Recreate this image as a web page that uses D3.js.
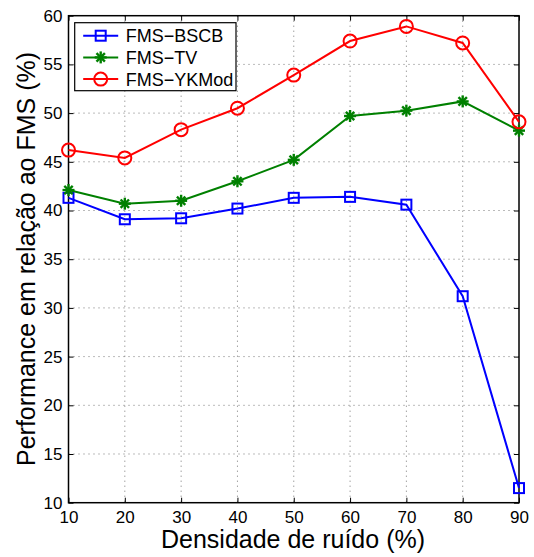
<!DOCTYPE html>
<html>
<head>
<meta charset="utf-8">
<script src="https://cdn.jsdelivr.net/npm/d3@7"></script>
<style>
  body { margin: 0; background: #fff; }
  text { font-family: "Liberation Sans", Arial, sans-serif; }
</style>
</head>
<body>
<div id="chart"></div>
<script>
const noise = [10, 20, 30, 40, 50, 60, 70, 80, 90];
const bscb = [41.3, 39.1, 39.2, 40.2, 41.3, 41.4, 40.6, 31.2, 11.5];
const tv = [42.1, 40.7, 41.0, 43.0, 45.2, 49.7, 50.25, 51.2, 48.2];
const ykmod = [46.2, 45.4, 48.3, 50.5, 53.9, 57.4, 58.9, 57.2, 49.1];
const yTicks = [10, 15, 20, 25, 30, 35, 40, 45, 50, 55, 60];

const W = 534, H = 557;
const margin = { top: 15.7, right: 15, bottom: 54.3, left: 68.5 },
      width = 519 - margin.left,
      height = 502.7 - margin.top;

const svg = d3.select("#chart").append("svg")
  .attr("width", W).attr("height", H)
  .append("g")
  .attr("transform", `translate(${margin.left},${margin.top})`);

const x = d3.scaleLinear().domain([10, 90]).range([0, width]);
const y = d3.scaleLinear().domain([10, 60]).range([height, 0]);

// grid
svg.selectAll(".gx").data(noise.slice(1, -1)).enter().append("line")
  .attr("x1", d => x(d)).attr("x2", d => x(d))
  .attr("y1", 0).attr("y2", height)
  .attr("stroke", "#777").attr("stroke-width", 1)
  .attr("stroke-dasharray", "1,4");
svg.selectAll(".gy").data(yTicks.slice(1, -1)).enter().append("line")
  .attr("y1", d => y(d)).attr("y2", d => y(d))
  .attr("x1", 0).attr("x2", width)
  .attr("stroke", "#777").attr("stroke-width", 1)
  .attr("stroke-dasharray", "1,4");

// axes (ticks inside)
const axStyle = g => {
  g.select(".domain").remove();
  g.selectAll("text").style("font-size", "17px").attr("fill", "#000")
    .style("font-family", "'Liberation Sans', Arial, sans-serif");
  g.selectAll("line").attr("stroke", "#000");
};
svg.append("g").attr("transform", `translate(0,${height})`)
  .call(d3.axisBottom(x).tickValues(noise).tickSizeInner(-5).tickPadding(8))
  .call(axStyle);
svg.append("g")
  .call(d3.axisLeft(y).tickValues(yTicks).tickSizeInner(-5).tickPadding(6))
  .call(axStyle);
svg.append("g")
  .call(d3.axisTop(x).tickValues(noise).tickSizeInner(-5).tickFormat(""))
  .call(axStyle);
svg.append("g").attr("transform", `translate(${width},0)`)
  .call(d3.axisRight(y).tickValues(yTicks).tickSizeInner(-5).tickFormat(""))
  .call(axStyle);

svg.append("rect").attr("width", width).attr("height", height)
  .attr("fill", "none").attr("stroke", "#000").attr("stroke-width", 1.5);

const series = [
  { name: "FMS\u2212BSCB", values: bscb, color: "#0000ff", marker: "square" },
  { name: "FMS\u2212TV", values: tv, color: "#008000", marker: "star" },
  { name: "FMS\u2212YKMod", values: ykmod, color: "#ff0000", marker: "circle" }
];

const line = d3.line().x((d, i) => x(noise[i])).y(d => y(d));

function drawMarker(g, type, color) {
  if (type === "square") {
    g.append("rect").attr("x", -5).attr("y", -5).attr("width", 10).attr("height", 10)
      .attr("fill", "none").attr("stroke", color).attr("stroke-width", 2);
  } else if (type === "circle") {
    g.append("circle").attr("r", 6.5)
      .attr("fill", "none").attr("stroke", color).attr("stroke-width", 2);
  } else {
    const r = 6;
    const p = [[-r, 0, r, 0], [0, -r, 0, r],
      [-r * 0.7, -r * 0.7, r * 0.7, r * 0.7], [-r * 0.7, r * 0.7, r * 0.7, -r * 0.7]];
    p.forEach(s => g.append("line")
      .attr("x1", s[0]).attr("y1", s[1]).attr("x2", s[2]).attr("y2", s[3])
      .attr("stroke", color).attr("stroke-width", 2.4));
  }
}

series.forEach(s => {
  svg.append("path").datum(s.values)
    .attr("d", line).attr("fill", "none")
    .attr("stroke", s.color).attr("stroke-width", 2);
  s.values.forEach((v, i) => {
    const g = svg.append("g").attr("transform", `translate(${x(noise[i])},${y(v)})`);
    drawMarker(g, s.marker, s.color);
  });
});

// legend
const leg = svg.append("g").attr("transform", `translate(${74.7 - margin.left},${22.7 - margin.top})`);
leg.append("rect").attr("width", 161.3).attr("height", 68)
  .attr("fill", "#fff").attr("stroke", "#000").attr("stroke-width", 1.2);
series.forEach((s, i) => {
  const yy = 13 + i * 21.7;
  leg.append("line").attr("x1", 8.5).attr("x2", 43.5).attr("y1", yy).attr("y2", yy)
    .attr("stroke", s.color).attr("stroke-width", 2);
  drawMarker(leg.append("g").attr("transform", `translate(26,${yy})`), s.marker, s.color);
  leg.append("text").attr("x", 51).attr("y", yy).attr("dy", "0.36em")
    .style("font-size", "18px").text(s.name);
});

// axis labels
svg.append("text")
  .attr("x", 293 - margin.left).attr("y", 548 - margin.top)
  .attr("text-anchor", "middle").style("font-size", "25px")
  .text("Densidade de ruído (%)");
svg.append("text")
  .attr("transform", `translate(${35 - margin.left},${259 - margin.top}) rotate(-90)`)
  .attr("text-anchor", "middle").style("font-size", "25px")
  .text("Performance em relação ao FMS (%)");
</script>
</body>
</html>
